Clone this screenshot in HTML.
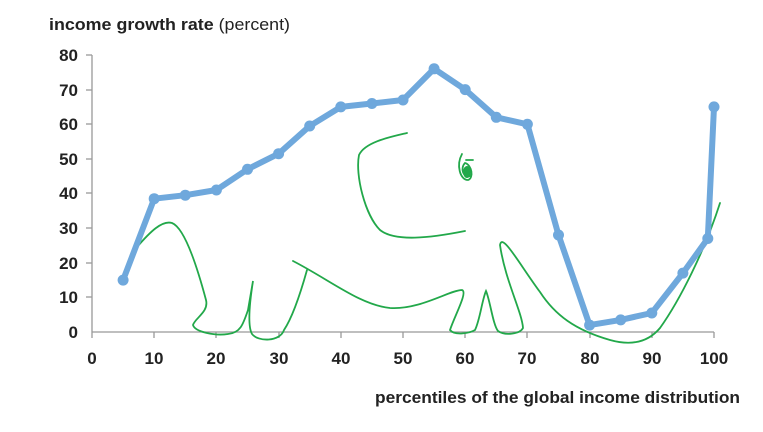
<!DOCTYPE html>
<html><head><style>
body{margin:0;background:#fff;}
svg text{font-family:"Liberation Sans",sans-serif;}
</style></head><body>
<svg width="763" height="427" viewBox="0 0 763 427" xmlns="http://www.w3.org/2000/svg">
<rect width="763" height="427" fill="#fff"/>
<text x="49" y="30" font-size="17" font-weight="bold" fill="#222" textLength="241" lengthAdjust="spacingAndGlyphs">income growth rate <tspan font-weight="normal">(percent)</tspan></text>
<g stroke="#999" stroke-width="1.3">
<line x1="92" y1="55" x2="92" y2="332"/>
<line x1="92" y1="332" x2="714" y2="332"/>
<line x1="86" y1="55" x2="92" y2="55"/><line x1="86" y1="90" x2="92" y2="90"/><line x1="86" y1="124" x2="92" y2="124"/><line x1="86" y1="159" x2="92" y2="159"/><line x1="86" y1="193" x2="92" y2="193"/><line x1="86" y1="228" x2="92" y2="228"/><line x1="86" y1="263" x2="92" y2="263"/><line x1="86" y1="297" x2="92" y2="297"/>
<line x1="92" y1="332" x2="92" y2="338"/><line x1="154" y1="332" x2="154" y2="338"/><line x1="216" y1="332" x2="216" y2="338"/><line x1="279" y1="332" x2="279" y2="338"/><line x1="341" y1="332" x2="341" y2="338"/><line x1="403" y1="332" x2="403" y2="338"/><line x1="465" y1="332" x2="465" y2="338"/><line x1="527" y1="332" x2="527" y2="338"/><line x1="590" y1="332" x2="590" y2="338"/><line x1="652" y1="332" x2="652" y2="338"/><line x1="714" y1="332" x2="714" y2="338"/>
</g>
<g font-size="17" font-weight="bold" fill="#222" text-anchor="end">
<text x="78" y="61">80</text><text x="78" y="96">70</text><text x="78" y="130">60</text><text x="78" y="165">50</text><text x="78" y="199">40</text><text x="78" y="234">30</text><text x="78" y="269">20</text><text x="78" y="303">10</text><text x="78" y="338">0</text>
</g>
<g font-size="17" font-weight="bold" fill="#222" text-anchor="middle">
<text x="92" y="364">0</text><text x="154" y="364">10</text><text x="216" y="364">20</text><text x="279" y="364">30</text><text x="341" y="364">40</text><text x="403" y="364">50</text><text x="465" y="364">60</text><text x="527" y="364">70</text><text x="590" y="364">80</text><text x="652" y="364">90</text><text x="714" y="364">100</text>
</g>
<text x="375" y="403" font-size="17" font-weight="bold" fill="#222" textLength="365" lengthAdjust="spacingAndGlyphs">percentiles of the global income distribution</text>
<g fill="none" stroke="#22a84a" stroke-width="1.8" stroke-linecap="round">
<path d="M137,247 C150,232 162,220 172,223 C185,228 198,270 206,300 C209,312 195,318 193,325 C195,332 215,336 228,334 C240,333 243,325 248,310 L253,281 C250,300 247,325 252,334 C258,342 280,342 284,330 C292,318 300,295 307,270"/>
<path d="M293,261 C330,280 360,305 390,308 C420,310 450,290 462,290 C468,292 455,315 450,330 C455,336 470,333 475,330 C480,320 482,300 486,291 C490,300 493,325 498,331 C505,336 520,334 523,328 C522,312 505,280 500,245 C502,232 520,265 540,292 C555,315 575,330 610,340 C635,347 650,340 660,328 C680,300 705,250 720,203"/>
<path d="M407,133 C390,137 365,142 359,155 C355,175 365,215 380,230 C395,242 430,238 465,231"/>
<path d="M462,154 C456,165 460,180 468,180 C474,178 472,165 465,163 C460,168 463,178 470,176 M466,160 L473,160"/>
</g>
<ellipse cx="467" cy="172" rx="4" ry="6" fill="#22a84a"/>
<polyline fill="none" stroke="#6fa8dc" stroke-width="6" stroke-linejoin="round" points="123.1,280.1 154.2,198.7 185.3,195.2 216.4,190.0 247.5,169.3 278.6,153.7 309.7,126.0 340.8,106.9 371.9,103.5 403.0,100.0 434.1,68.8 465.2,89.6 496.3,117.3 527.4,124.3 558.5,235.0 589.6,325.1 620.7,319.9 651.8,313.0 682.9,273.1 707.8,238.5 714,106.9"/>
<g fill="#6fa8dc">
<circle cx="123.1" cy="280.1" r="5.5"/><circle cx="154.2" cy="198.7" r="5.5"/><circle cx="185.3" cy="195.2" r="5.5"/><circle cx="216.4" cy="190.0" r="5.5"/><circle cx="247.5" cy="169.3" r="5.5"/><circle cx="278.6" cy="153.7" r="5.5"/><circle cx="309.7" cy="126.0" r="5.5"/><circle cx="340.8" cy="106.9" r="5.5"/><circle cx="371.9" cy="103.5" r="5.5"/><circle cx="403.0" cy="100.0" r="5.5"/><circle cx="434.1" cy="68.8" r="5.5"/><circle cx="465.2" cy="89.6" r="5.5"/><circle cx="496.3" cy="117.3" r="5.5"/><circle cx="527.4" cy="124.3" r="5.5"/><circle cx="558.5" cy="235.0" r="5.5"/><circle cx="589.6" cy="325.1" r="5.5"/><circle cx="620.7" cy="319.9" r="5.5"/><circle cx="651.8" cy="313.0" r="5.5"/><circle cx="682.9" cy="273.1" r="5.5"/><circle cx="707.8" cy="238.5" r="5.5"/><circle cx="714" cy="106.9" r="5.5"/>
</g>
</svg>
</body></html>
